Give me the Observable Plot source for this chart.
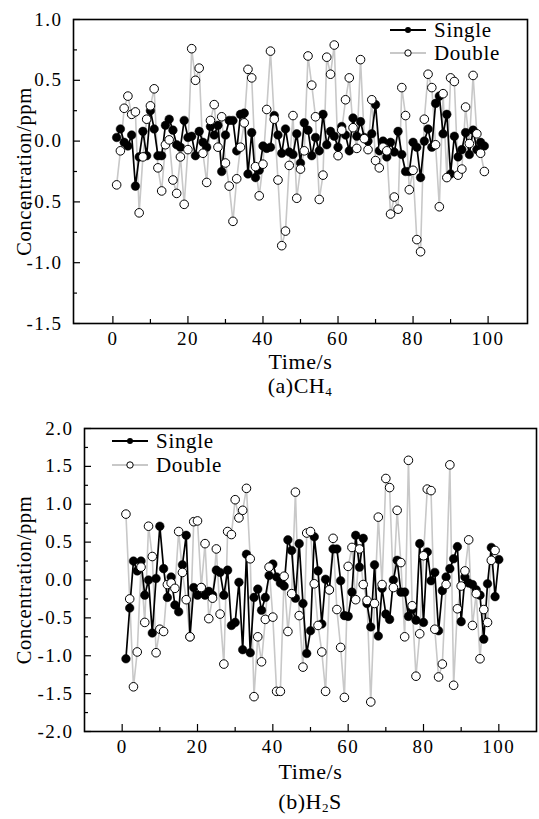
<!DOCTYPE html>
<html><head><meta charset="utf-8">
<script src="https://cdn.jsdelivr.net/npm/d3@7"></script>
<script src="https://cdn.jsdelivr.net/npm/@observablehq/plot@0.6"></script>
<style>
body{margin:0;background:#fff;}
#wrap{position:relative;width:539px;height:819px;overflow:hidden;font-family:"Liberation Serif","Times New Roman",serif;color:#000;}
#wrap svg.plot{position:absolute;left:0;}
.cap{position:absolute;font-size:22px;line-height:24px;transform:translateX(-50%);white-space:nowrap;letter-spacing:0.5px;}
.cap sub{font-size:13px;vertical-align:-3px;line-height:0;}
.leg{position:absolute;font-size:21px;height:20px;line-height:20px;display:flex;align-items:center;white-space:nowrap;letter-spacing:0.7px;}
.leg svg{display:block;}
</style></head><body><div id="wrap"></div>
<script>
// ---------- data ----------
// (a) CH4, time 1..99 s
const ch4Single = [0.03,0.10,-0.01,-0.04,0.05,-0.37,-0.13,0.08,-0.12,0.25,
  0.10,-0.12,-0.12,0.13,0.18,0.09,-0.03,-0.05,0.17,0.03,
  0.04,-0.12,0.08,-0.01,-0.05,0.12,0.05,0.13,-0.25,0.05,
  0.17,0.17,-0.08,0.22,0.23,-0.27,0.07,-0.30,-0.24,-0.04,
  -0.06,-0.05,0.21,0.05,-0.10,0.10,-0.09,-0.11,0.06,-0.18,
  0.15,0.09,-0.12,0.03,-0.08,0.22,-0.03,0.08,0.04,-0.05,
  0.12,0.05,-0.08,0.19,0.04,0.16,0.03,0.00,0.06,0.30,
  -0.08,0.00,-0.13,-0.01,-0.09,0.08,-0.11,-0.25,-0.25,-0.01,
  -0.05,-0.30,0.00,0.10,-0.05,0.31,0.37,0.06,0.22,-0.27,
  0.04,-0.13,-0.07,0.07,-0.11,0.09,-0.07,-0.01,-0.04];
const ch4Double = [-0.36,-0.08,0.27,0.37,0.22,0.24,-0.59,-0.13,0.18,0.29,
  0.43,-0.22,-0.41,-0.03,0.01,-0.32,-0.43,-0.13,-0.52,-0.07,
  0.76,0.50,0.60,-0.10,-0.34,0.17,0.30,-0.05,0.20,-0.18,
  -0.37,-0.66,-0.31,-0.05,0.15,0.59,0.52,-0.21,-0.45,-0.19,
  0.26,0.74,0.18,-0.32,-0.86,-0.74,-0.20,0.21,-0.47,-0.23,
  -0.08,0.70,0.46,0.20,-0.48,-0.28,0.69,0.55,0.79,-0.12,
  0.09,0.34,0.52,0.11,-0.06,0.67,0.02,-0.07,0.34,-0.16,
  -0.22,-0.05,-0.08,-0.60,-0.46,-0.56,0.44,0.21,-0.40,-0.24,
  -0.81,-0.91,0.18,0.55,0.44,-0.03,-0.54,0.39,-0.30,0.52,
  0.49,-0.28,-0.23,0.28,-0.02,0.54,0.06,-0.10,-0.25];
// (b) H2S
const h2sSingle = [-1.04,-0.37,0.25,0.12,0.25,-0.20,0.00,-0.70,0.02,0.71,
  0.15,-0.23,0.04,-0.33,-0.42,0.20,0.59,-0.75,-0.10,-0.20,
  -0.10,-0.20,-0.15,-0.20,0.13,0.10,-0.20,0.13,-0.60,-0.56,
  -0.03,-0.92,0.34,-0.96,-0.23,-0.12,-0.40,-0.23,0.06,0.21,
  0.04,-0.04,-0.08,0.53,0.39,-0.24,0.48,-0.31,-0.97,-0.67,
  0.57,0.12,-0.58,0.01,-0.13,0.41,0.41,-0.01,-0.47,-0.48,
  -0.16,0.59,0.17,0.55,-0.31,-0.62,0.20,-0.74,-0.11,-0.45,
  -0.52,0.00,0.26,-0.16,-0.16,-0.48,-0.39,-0.53,0.48,-0.56,
  0.37,-0.01,0.10,-0.67,-0.14,0.04,0.15,0.28,0.44,-0.55,
  0.04,-0.04,-0.06,-0.13,-0.20,-0.78,-0.05,0.43,-0.22,0.27];
const h2sDouble = [0.87,-0.25,-1.41,-0.95,0.17,-0.56,0.71,0.31,-0.96,-0.65,
  -0.68,-0.06,-0.04,-0.11,0.64,0.10,-0.26,-0.75,0.77,0.78,
  -0.10,0.48,-0.51,-0.24,0.41,-0.45,-1.11,0.64,0.60,1.06,
  0.82,0.92,1.21,0.28,-1.54,-0.75,-1.08,-0.52,0.17,-0.49,
  -1.47,-1.47,0.05,-0.68,-0.18,1.16,-0.47,-1.15,0.62,0.64,
  -0.05,-0.60,-0.95,-1.47,-0.13,0.55,-0.39,-0.89,-1.55,0.18,
  0.43,-0.26,0.41,-0.06,-0.27,-1.61,-0.31,0.83,-0.06,1.34,
  1.22,-0.10,0.92,0.23,-0.75,1.58,-0.34,-1.27,-0.71,0.32,
  1.20,1.18,-0.65,-1.28,-1.11,-0.06,1.52,-1.39,-0.38,-0.08,
  0.12,0.53,-0.60,-0.18,-1.04,-0.39,-0.56,0.26,0.39];

const xTicks = [0,20,40,60,80,100];
const xMinorTicks = [10,30,50,70,90];
const ch4YTicks = [-1.5,-1.0,-0.5,0.0,0.5,1.0];
const ch4YMinor = [-1.25,-0.75,-0.25,0.25,0.75];
const h2sYTicks = [-2.0,-1.5,-1.0,-0.5,0.0,0.5,1.0,1.5,2.0];
const h2sYMinor = [-1.75,-1.25,-0.75,-0.25,0.25,0.75,1.25,1.75];
const seriesNames = ["Single","Double"];
const xTitle = "Time/s";
const yTitle = "Concentration/ppm";

// ---------- drawing ----------
function panel(o){
  const S = o.single.map((v,i)=>({t:i+1, v}));
  const D = o.double.map((v,i)=>({t:i+1, v}));
  const fw = o.width - o.ml - o.mr, fh = o.height - o.mt - o.mb;
  const svg = Plot.plot({
    width:o.width, height:o.height,
    marginLeft:o.ml, marginRight:o.mr, marginTop:o.mt, marginBottom:o.mb,
    x:{domain:o.xDomain},
    y:{domain:o.yDomain},
    style:{fontFamily:"'Liberation Serif', 'Times New Roman', serif", fontSize:"19px", color:"black", background:"white", overflow:"visible"},
    marks:[
      Plot.line(D,{x:"t", y:"v", stroke:"#c8c8c8", strokeWidth:1.6}),
      Plot.line(S,{x:"t", y:"v", stroke:"black", strokeWidth:1.7}),
      Plot.dot(S,{x:"t", y:"v", r:4.3, fill:"black", stroke:"black", strokeWidth:0.5}),
      Plot.dot(D,{x:"t", y:"v", r:4.3, fill:"white", stroke:"black", strokeWidth:1}),
      Plot.tickX(xTicks,{x:d=>d, insetTop:fh-7, stroke:"black", strokeWidth:1.2}),
      Plot.tickX(xMinorTicks,{x:d=>d, insetTop:fh-4, stroke:"black", strokeWidth:1.2}),
      Plot.tickY(o.yTicks,{y:d=>d, insetRight:fw-7, stroke:"black", strokeWidth:1.2}),
      Plot.tickY(o.yMinor,{y:d=>d, insetRight:fw-4, stroke:"black", strokeWidth:1.2}),
      Plot.axisX(xTicks,{tickSize:0, tickPadding:8, label:null, tickFormat:d=>String(d), fontSize:19}),
      Plot.axisY(o.yTicks,{tickSize:0, tickPadding:11, label:null, tickFormat:d=>d.toFixed(1), fontSize:19}),
      Plot.frame({stroke:"black", strokeWidth:1.6}),
      Plot.text([xTitle],{text:d=>d, frameAnchor:"bottom", textAnchor:"middle", lineAnchor:"middle", dy:o.xTitleDy, fontSize:22}),
      Plot.text([yTitle],{text:d=>d, frameAnchor:"left", textAnchor:"middle", lineAnchor:"middle", rotate:-90, dx:24-o.ml, fontSize:20.5})
    ]
  });
  svg.style.top = o.top + "px";
  svg.querySelectorAll('[aria-label="x-axis tick label"] text, [aria-label="y-axis tick label"] text')
    .forEach(t=>t.style.letterSpacing="1.5px");
  svg.querySelectorAll('[aria-label="text"] text').forEach(t=>t.style.letterSpacing="0.6px");
  return svg;
}

const wrap = document.getElementById("wrap");
wrap.appendChild(panel({single:ch4Single, double:ch4Double, xDomain:[-10.5,110.5], yDomain:[-1.5,1.0],
  yTicks:ch4YTicks, yMinor:ch4YMinor, width:539, height:400, ml:73, mr:12, mt:19, mb:77, top:0, xTitleDy:38}));
wrap.appendChild(panel({single:h2sSingle, double:h2sDouble, xDomain:[-10,110], yDomain:[-2,2],
  yTicks:h2sYTicks, yMinor:h2sYMinor, width:539, height:419, ml:84, mr:3, mt:28, mb:88, top:400, xTitleDy:40}));

function legendRow(x, yc, name, i){
  const d = document.createElement("div");
  d.className = "leg";
  d.style.left = x + "px"; d.style.top = (yc-10) + "px";
  const line = i===0 ? "black" : "#c8c8c8";
  const dot = i===0 ? `<circle cx="18" cy="7" r="3" fill="black"/>` : `<circle cx="18" cy="7" r="3.2" fill="white" stroke="black" stroke-width="1"/>`;
  d.innerHTML = `<svg width="36" height="14"><line x1="0" x2="36" y1="7" y2="7" stroke="${line}" stroke-width="2"/>${dot}</svg><span style="margin-left:8px">${name}</span>`;
  wrap.appendChild(d);
}
legendRow(390, 30, seriesNames[0], 0);
legendRow(390, 53, seriesNames[1], 1);
legendRow(112, 441, seriesNames[0], 0);
legendRow(112, 465, seriesNames[1], 1);

function caption(cx, cy, html){
  const d = document.createElement("div");
  d.className = "cap"; d.style.left = cx + "px"; d.style.top = (cy-12) + "px";
  d.innerHTML = html; wrap.appendChild(d);
}
caption(300, 386, "(a)CH<sub>4</sub>");
caption(310, 802, "(b)H<sub>2</sub>S");
</script></body></html>
